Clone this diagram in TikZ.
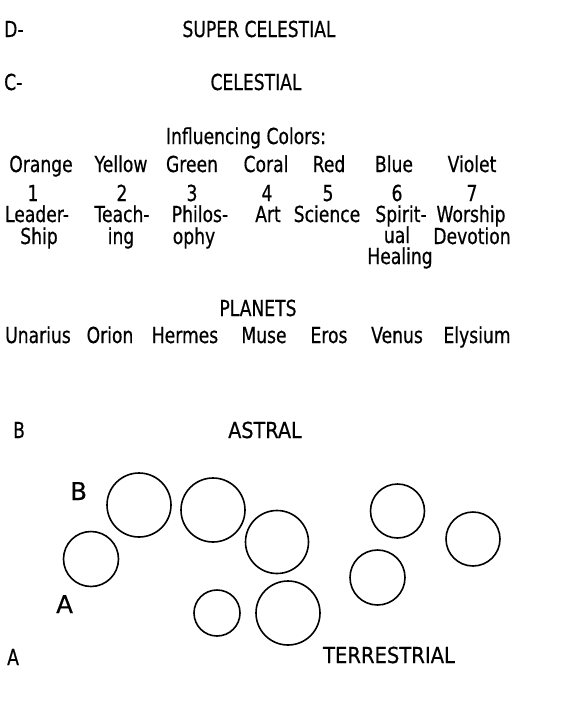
\documentclass[tikz,border=0pt]{standalone}
\usepackage{fontspec}
\setmainfont[FakeStretch=0.78,FakeBold=0.5]{DejaVu Sans}
\newfontfamily\bigfont[FakeBold=0.5]{DejaVu Sans}
\begin{document}
\begin{tikzpicture}[x=1pt,y=-1pt,
  txt/.style={font=\fontsize{22}{24}\selectfont, inner sep=0pt, anchor=base},
  lbl/.style={txt, anchor=base west},
  big/.style={font=\bigfont\fontsize{24.5}{28}\selectfont, inner sep=0pt, anchor=base west},
  orb/.style={circle, draw, line width=1.6pt, inner sep=0pt, minimum size=#1}]
\useasboundingbox (0,0) rectangle (582,704);
% levels
\node[lbl] (dlab) at (4,37) {D-};
\node[txt] (super) at (259,37) {SUPER CELESTIAL};
\node[lbl] (clab) at (4,90) {C-};
\node[txt] (cel) at (256,90) {CELESTIAL};
% influencing colours
\node[txt] (infl) at (246,144) {Influencing Colors:};
\node[txt] (col1) at (41,172) {Orange};
\node[txt] (col2) at (121,172) {Yellow};
\node[txt] (col3) at (192,172) {Green};
\node[txt] (col4) at (266,172) {Coral};
\node[txt] (col5) at (329,172) {Red};
\node[txt] (col6) at (394,172) {Blue};
\node[txt] (col7) at (472,172) {Violet};
\node[txt] (n1) at (33,201) {1};
\node[txt] (n2) at (122,201) {2};
\node[txt] (n3) at (192,201) {3};
\node[txt] (n4) at (267,201) {4};
\node[txt] (n5) at (328,201) {5};
\node[txt] (n6) at (397,201) {6};
\node[txt] (n7) at (472,201) {7};
\node[txt] (a1) at (37,222) {Leader-};
\node[txt] (a2) at (122,222) {Teach-};
\node[txt] (a3) at (200,222) {Philos-};
\node[txt] (a4) at (268,222) {Art};
\node[txt] (a5) at (327,222) {Science};
\node[txt] (a6) at (401,222) {Spirit-};
\node[txt] (a7) at (471,222) {Worship};
\node[txt] (b1) at (39,244) {Ship};
\node[txt] (b2) at (121,244) {ing};
\node[txt] (b3) at (194,244) {ophy};
\node[txt] (b6) at (397,243) {ual};
\node[txt] (b7) at (472,244) {Devotion};
\node[txt] (c6) at (400,264) {Healing};
% planets
\node[txt] (plan) at (258,316) {PLANETS};
\node[txt] (p1) at (38,343) {Unarius};
\node[txt] (p2) at (110,343) {Orion};
\node[txt] (p3) at (185,343) {Hermes};
\node[txt] (p4) at (264,343) {Muse};
\node[txt] (p5) at (329,343) {Eros};
\node[txt] (p6) at (397,343) {Venus};
\node[txt] (p7) at (477,343) {Elysium};
% astral / terrestrial
\node[lbl] (bsmall) at (13,438) {B};
\node[txt] (astral) at (265,438) {\scalebox{1.12}[1]{ASTRAL}};
\node[big] (bbig) at (70,500) {B};
\node[big] (abig) at (56,613) {A};
\node[lbl] (asmall) at (7,665) {A};
\node[txt] (terr) at (389,663) {\scalebox{1.14}[1]{TERRESTRIAL}};
% circles
\node[orb=64pt] (o1) at (139,505) {};
\node[orb=64pt] (o2) at (213,510) {};
\node[orb=63pt] (o3) at (277,542) {};
\node[orb=55pt] (o4) at (91,559) {};
\node[orb=46pt] (o5) at (217,613) {};
\node[orb=64pt] (o6) at (288,613) {};
\node[orb=54pt] (o7) at (397.5,511) {};
\node[orb=54pt] (o8) at (473,539) {};
\node[orb=55pt] (o9) at (377.5,577.5) {};
\end{tikzpicture}
\end{document}
